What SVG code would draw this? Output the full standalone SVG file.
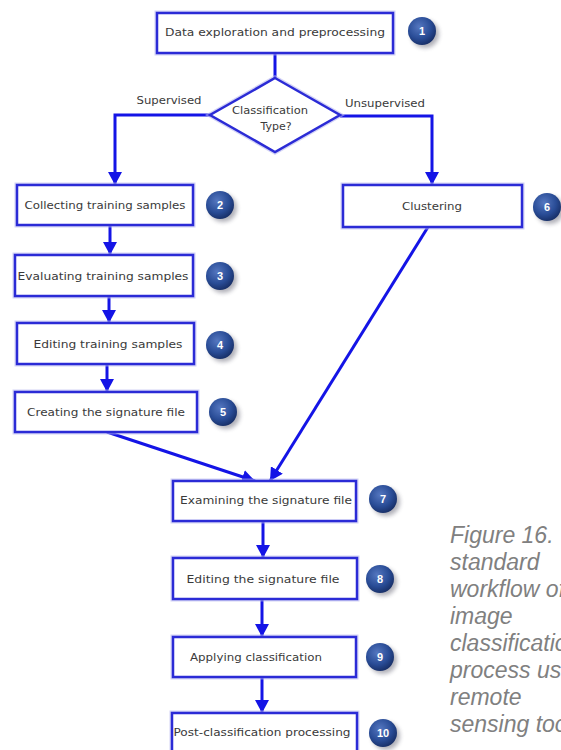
<svg xmlns="http://www.w3.org/2000/svg" width="561" height="750" viewBox="0 0 561 750">
<defs>
<style>
.box{fill:#ffffff;stroke:#2b2bd6;stroke-width:2.5}
.glow{fill:none;stroke:#b8b8f0;stroke-width:5;opacity:0.6}
.lbl{font-family:"DejaVu Sans","Liberation Sans",sans-serif;font-size:11px;fill:#3a3a3a;text-anchor:middle;dominant-baseline:central}
.edge{fill:none;stroke:#1414e6;stroke-width:3}
.num{font-family:"Liberation Sans",sans-serif;font-size:11px;font-weight:bold;fill:#ffffff;text-anchor:middle;dominant-baseline:central}
.cap{font-family:"Liberation Sans",Arial,sans-serif;font-size:23px;font-style:italic;fill:#808080}
</style>
<radialGradient id="bg" cx="0.4" cy="0.35" r="0.7">
<stop offset="0" stop-color="#5577c0"/>
<stop offset="0.6" stop-color="#294c96"/>
<stop offset="1" stop-color="#162c62"/>
</radialGradient>
<filter id="sh" x="-50%" y="-50%" width="200%" height="200%">
<feGaussianBlur stdDeviation="2"/>
</filter>
<marker id="ah" markerUnits="userSpaceOnUse" markerWidth="14" markerHeight="14" refX="13" refY="7" orient="auto">
<path d="M0,0 L13,7 L0,14 Z" fill="#1414e6"/>
</marker>
<g id="badge">
<circle cx="3" cy="3" r="14" fill="#556" opacity="0.45" filter="url(#sh)"/>
<circle cx="0" cy="0" r="14" fill="url(#bg)"/>
</g>
</defs>
<rect width="561" height="750" fill="#ffffff"/>

<g id="connectors">
<line class="edge" x1="275" y1="53" x2="275" y2="78"/>
<polyline class="edge" points="210,115 115,115 115,185" marker-end="url(#ah)"/>
<polyline class="edge" points="340,116 432,116 432,185" marker-end="url(#ah)"/>
<line class="edge" x1="110" y1="225" x2="110" y2="255" marker-end="url(#ah)"/>
<line class="edge" x1="109" y1="296" x2="109" y2="323" marker-end="url(#ah)"/>
<line class="edge" x1="107" y1="364" x2="107" y2="392" marker-end="url(#ah)"/>
<line class="edge" x1="107" y1="432" x2="255" y2="481" marker-end="url(#ah)"/>
<line class="edge" x1="428" y1="227" x2="270" y2="481" marker-end="url(#ah)"/>
<line class="edge" x1="263" y1="521" x2="263" y2="558" marker-end="url(#ah)"/>
<line class="edge" x1="262" y1="599" x2="262" y2="637" marker-end="url(#ah)"/>
<line class="edge" x1="262" y1="677" x2="262" y2="713" marker-end="url(#ah)"/>
<text x="169" y="100" class="lbl" textLength="65" lengthAdjust="spacingAndGlyphs">Supervised</text>
<text x="385" y="103" class="lbl" textLength="80" lengthAdjust="spacingAndGlyphs">Unsupervised</text>
</g>

<g id="n1">
<rect class="glow" x="157" y="13" width="236" height="40"/>
<rect class="box" x="157" y="13" width="236" height="40"/>
<text class="lbl" x="275" y="32" textLength="220" lengthAdjust="spacingAndGlyphs">Data exploration and preprocessing</text>
<use href="#badge" x="422" y="31"/><text class="num" x="422" y="31">1</text>
</g>

<g id="decision">
<polygon class="glow" points="275,78 340,115 275,152 210,115"/>
<polygon class="box" points="275,78 340,115 275,152 210,115"/>
<text class="lbl" x="270" y="110" textLength="76" lengthAdjust="spacingAndGlyphs">Classification</text>
<text class="lbl" x="276" y="126">Type?</text>
</g>

<g id="n2">
<rect class="glow" x="17" y="185" width="176" height="40"/>
<rect class="box" x="17" y="185" width="176" height="40"/>
<text class="lbl" x="105" y="205" textLength="161" lengthAdjust="spacingAndGlyphs">Collecting training samples</text>
<use href="#badge" x="220" y="205"/><text class="num" x="220" y="205">2</text>
</g>

<g id="n3">
<rect class="glow" x="15" y="255" width="178" height="41"/>
<rect class="box" x="15" y="255" width="178" height="41"/>
<text class="lbl" x="103" y="276" textLength="171" lengthAdjust="spacingAndGlyphs">Evaluating training samples</text>
<use href="#badge" x="220" y="276"/><text class="num" x="220" y="276">3</text>
</g>

<g id="n4">
<rect class="glow" x="17" y="323" width="177" height="41"/>
<rect class="box" x="17" y="323" width="177" height="41"/>
<text class="lbl" x="108" y="344" textLength="149" lengthAdjust="spacingAndGlyphs">Editing training samples</text>
<use href="#badge" x="220" y="345"/><text class="num" x="220" y="345">4</text>
</g>

<g id="n5">
<rect class="glow" x="15" y="392" width="182" height="40"/>
<rect class="box" x="15" y="392" width="182" height="40"/>
<text class="lbl" x="106" y="412" textLength="158" lengthAdjust="spacingAndGlyphs">Creating the signature file</text>
<use href="#badge" x="223" y="412"/><text class="num" x="223" y="412">5</text>
</g>

<g id="n6">
<rect class="glow" x="343" y="185" width="179" height="42"/>
<rect class="box" x="343" y="185" width="179" height="42"/>
<text class="lbl" x="432" y="206" textLength="60" lengthAdjust="spacingAndGlyphs">Clustering</text>
<use href="#badge" x="547" y="207"/><text class="num" x="547" y="207">6</text>
</g>

<g id="n7">
<rect class="glow" x="173" y="481" width="183" height="40"/>
<rect class="box" x="173" y="481" width="183" height="40"/>
<text class="lbl" x="266" y="500" textLength="172" lengthAdjust="spacingAndGlyphs">Examining the signature file</text>
<use href="#badge" x="383" y="499"/><text class="num" x="383" y="499">7</text>
</g>

<g id="n8">
<rect class="glow" x="173" y="558" width="184" height="41"/>
<rect class="box" x="173" y="558" width="184" height="41"/>
<text class="lbl" x="263" y="579" textLength="153" lengthAdjust="spacingAndGlyphs">Editing the signature file</text>
<use href="#badge" x="380" y="579"/><text class="num" x="380" y="579">8</text>
</g>

<g id="n9">
<rect class="glow" x="173" y="637" width="183" height="40"/>
<rect class="box" x="173" y="637" width="183" height="40"/>
<text class="lbl" x="256" y="657" textLength="132" lengthAdjust="spacingAndGlyphs">Applying classification</text>
<use href="#badge" x="380" y="657"/><text class="num" x="380" y="657">9</text>
</g>

<g id="n10">
<rect class="glow" x="172" y="713" width="185" height="42"/>
<rect class="box" x="172" y="713" width="185" height="42"/>
<text class="lbl" x="262" y="732" textLength="177" lengthAdjust="spacingAndGlyphs">Post-classification processing</text>
<use href="#badge" x="383" y="733"/><text class="num" x="383" y="733">10</text>
</g>

<g id="caption">
<text class="cap" x="450" y="543">Figure 16. The</text>
<text class="cap" x="450" y="570">standard</text>
<text class="cap" x="450" y="597">workflow of</text>
<text class="cap" x="450" y="624">image</text>
<text class="cap" x="450" y="651">classification</text>
<text class="cap" x="450" y="678">process using</text>
<text class="cap" x="450" y="705">remote</text>
<text class="cap" x="450" y="732">sensing tools</text>
</g>
</svg>
